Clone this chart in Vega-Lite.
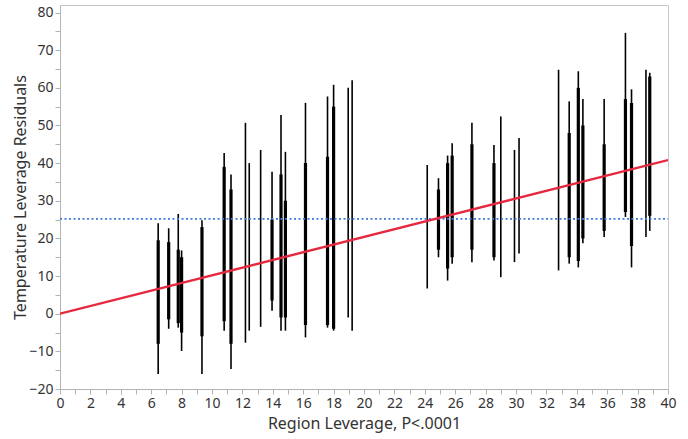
{
  "$schema": "https://vega.github.io/schema/vega-lite/v6.json",
  "width": 608,
  "height": 384,
  "autosize": {"type": "none"},
  "padding": {"left": 60, "top": 5, "right": 20, "bottom": 50},
  "background": "white",
  "config": {
    "view": {"stroke": "#c8c8c8", "strokeWidth": 1},
    "font": "Noto Sans",
    "axis": {
      "grid": false,
      "domainColor": "#b4b4b4",
      "tickColor": "#b4b4b4",
      "labelColor": "#333333",
      "titleColor": "#333333",
      "labelFont": "Noto Sans",
      "titleFont": "Noto Sans",
      "labelFontSize": 14,
      "titleFontSize": 16,
      "titleFontWeight": "normal",
      "labelOverlap": false,
      "labelFlush": false
    }
  },
  "datasets": {
    "cols": [
      {"x": 6.46, "ymin": -16, "ymax": 24, "cmin": -8, "cmax": 19.5},
      {"x": 7.15, "ymin": -4, "ymax": 22.7, "cmin": -1.5, "cmax": 19},
      {"x": 7.78, "ymin": -3.7, "ymax": 26.5, "cmin": -2.5, "cmax": 17},
      {"x": 8.0, "ymin": -9.9, "ymax": 16.8, "cmin": -5, "cmax": 15},
      {"x": 9.34, "ymin": -16, "ymax": 24.8, "cmin": -6, "cmax": 23},
      {"x": 10.8, "ymin": -4.5, "ymax": 42.7, "cmin": -2, "cmax": 39},
      {"x": 11.25, "ymin": -14.7, "ymax": 37, "cmin": -8, "cmax": 33},
      {"x": 12.2, "ymin": -7.7, "ymax": 50.7, "cmin": null, "cmax": null},
      {"x": 12.45, "ymin": -4.5, "ymax": 40, "cmin": null, "cmax": null},
      {"x": 13.2, "ymin": -3.5, "ymax": 43.5, "cmin": null, "cmax": null},
      {"x": 13.95, "ymin": 0.8, "ymax": 37.7, "cmin": 3.5, "cmax": 25},
      {"x": 14.54, "ymin": -4.5, "ymax": 52.8, "cmin": -1, "cmax": 37},
      {"x": 14.83, "ymin": -4.5, "ymax": 43, "cmin": -1, "cmax": 30},
      {"x": 16.15, "ymin": -6.3, "ymax": 56, "cmin": -3, "cmax": 40},
      {"x": 17.6, "ymin": -3.7, "ymax": 57.7, "cmin": -3, "cmax": 41.7},
      {"x": 18.0, "ymin": -4.5, "ymax": 60.8, "cmin": -4, "cmax": 55},
      {"x": 18.96, "ymin": -1, "ymax": 60, "cmin": null, "cmax": null},
      {"x": 19.22, "ymin": -4.5, "ymax": 62, "cmin": null, "cmax": null},
      {"x": 24.16, "ymin": 6.7, "ymax": 39.5, "cmin": null, "cmax": null},
      {"x": 24.9, "ymin": 15, "ymax": 36, "cmin": 17, "cmax": 33},
      {"x": 25.5, "ymin": 8.8, "ymax": 42, "cmin": 12, "cmax": 40},
      {"x": 25.8, "ymin": 13.3, "ymax": 45.3, "cmin": 15, "cmax": 42},
      {"x": 27.1, "ymin": 13.7, "ymax": 50.7, "cmin": 17, "cmax": 45},
      {"x": 28.55, "ymin": 14.1, "ymax": 44.8, "cmin": 15, "cmax": 40},
      {"x": 29.0, "ymin": 9.7, "ymax": 52.4, "cmin": null, "cmax": null},
      {"x": 29.9, "ymin": 13.7, "ymax": 43.5, "cmin": null, "cmax": null},
      {"x": 30.2, "ymin": 16, "ymax": 46.7, "cmin": null, "cmax": null},
      {"x": 32.8, "ymin": 11.5, "ymax": 64.8, "cmin": null, "cmax": null},
      {"x": 33.5, "ymin": 13.3, "ymax": 56.4, "cmin": 15, "cmax": 48},
      {"x": 34.1, "ymin": 12.3, "ymax": 64.4, "cmin": 14, "cmax": 60},
      {"x": 34.4, "ymin": 18.7, "ymax": 57, "cmin": 20, "cmax": 50},
      {"x": 35.8, "ymin": 20.4, "ymax": 57, "cmin": 22, "cmax": 45},
      {"x": 37.2, "ymin": 25.7, "ymax": 74.6, "cmin": 27, "cmax": 57},
      {"x": 37.6, "ymin": 12.3, "ymax": 59.6, "cmin": 18, "cmax": 56},
      {"x": 38.55, "ymin": 20.4, "ymax": 64.8, "cmin": null, "cmax": null},
      {"x": 38.8, "ymin": 22, "ymax": 64, "cmin": 26, "cmax": 63}
    ],
    "fit": [
      {"x": 0, "y": 0},
      {"x": 40, "y": 40.8}
    ],
    "mean": [
      {"x": 0, "xend": 40, "y": 25.2}
    ]
  },
  "encoding": {
    "x": {
      "field": "x", "type": "quantitative",
      "scale": {"domain": [0, 40], "nice": false, "zero": false},
      "axis": {
        "title": "Region Leverage, P<.0001",
        "values": [0,1,2,3,4,5,6,7,8,9,10,11,12,13,14,15,16,17,18,19,20,21,22,23,24,25,26,27,28,29,30,31,32,33,34,35,36,37,38,39,40],
        "labelExpr": "datum.value % 2 === 0 ? datum.label : ''",
        "labelOverlap": false,
        "tickSize": 5,
        "labelPadding": 2,
        "titlePadding": 5,
        "encode": {"ticks": {"update": {"y2": {"signal": "datum.value % 2 === 0 ? 5 : 3"}}}}
      }
    },
    "y": {
      "field": "y", "type": "quantitative",
      "scale": {"domain": [-20, 82], "nice": false, "zero": false},
      "axis": {
        "title": "Temperature Leverage Residuals",
        "values": [-20,-15,-10,-5,0,5,10,15,20,25,30,35,40,45,50,55,60,65,70,75,80],
        "labelExpr": "datum.value % 10 === 0 ? datum.label : ''",
        "labelOverlap": false,
        "tickSize": 5,
        "labelPadding": 2,
        "titlePadding": 0,
        "encode": {"ticks": {"update": {"x2": {"signal": "datum.value % 10 === 0 ? -5 : -3"}}}}
      }
    }
  },
  "layer": [
    {
      "data": {"name": "cols"},
      "mark": {"type": "rule", "color": "#000000", "strokeWidth": 1.6},
      "encoding": {
        "y": {"field": "ymin", "type": "quantitative", "title": "Temperature Leverage Residuals"},
        "y2": {"field": "ymax"}
      }
    },
    {
      "data": {"name": "cols"},
      "mark": {"type": "rule", "color": "#000000", "strokeWidth": 3.2},
      "encoding": {
        "y": {"field": "cmin", "type": "quantitative", "title": "Temperature Leverage Residuals"},
        "y2": {"field": "cmax"}
      }
    },
    {
      "data": {"name": "mean"},
      "mark": {"type": "rule", "color": "#3f78e0", "strokeWidth": 1.6, "strokeDash": [2, 2.5]},
      "encoding": {
        "x2": {"field": "xend"}
      }
    },
    {
      "data": {"name": "fit"},
      "mark": {"type": "line", "color": "#e6283f", "strokeWidth": 2.4, "clip": true}
    }
  ]
}
